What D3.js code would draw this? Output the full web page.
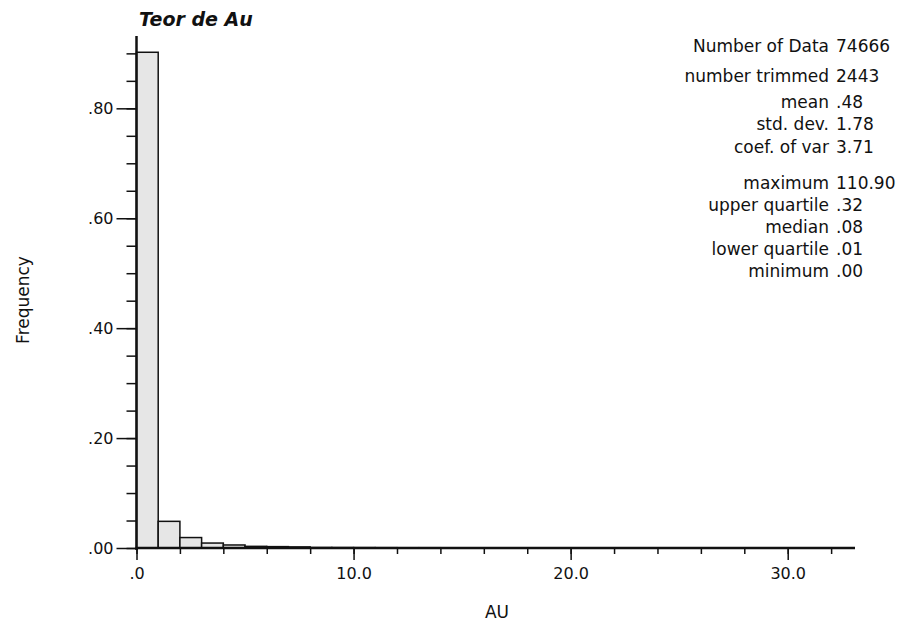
<!DOCTYPE html>
<html>
<head>
<meta charset="utf-8">
<script src="https://cdn.jsdelivr.net/npm/d3@7"></script>
<style>
  body { margin: 0; background: #fff; }
  svg text { font-family: "DejaVu Sans", sans-serif; fill: #111; }
</style>
</head>
<body>
<div id="chart"></div>
<script>
// histogram bins (width 1 AU, starting at 0)
const binStart = d3.range(0, 33);
const frequency = [0.902, 0.0485, 0.019, 0.009, 0.0055, 0.003, 0.0025, 0.002,
  0.0009, 0.0008, 0.0007, 0.0006, 0.0005, 0.0005, 0.0004, 0.0004, 0.0003, 0.0003,
  0.0003, 0.0002, 0.0002, 0.0002, 0.0002, 0.0002, 0.0001, 0.0001, 0.0001, 0.0001,
  0.0001, 0.0001, 0.0001, 0.0001, 0.0001];

const statLabels = ["Number of Data", "number trimmed", "mean", "std. dev.", "coef. of var",
  "maximum", "upper quartile", "median", "lower quartile", "minimum"];
const statValues = ["74666", "2443", ".48", "1.78", "3.71", "110.90", ".32", ".08", ".01", ".00"];
const statRowY = [46, 76, 102, 124, 147, 183, 205, 227, 249, 271];

const yMajor = [0, 0.2, 0.4, 0.6, 0.8];
const xMajor = [0, 10, 20, 30];

const width = 909, height = 628;
const svg = d3.select("#chart").append("svg")
    .attr("width", width)
    .attr("height", height);

const x = d3.scaleLinear().domain([0, 33.1]).range([136.5, 855]);
const y = d3.scaleLinear().domain([0, 0.9316]).range([548, 36]);

// bars
svg.selectAll(".bar")
    .data(binStart)
    .join("rect")
    .attr("class", "bar")
    .attr("x", d => x(d))
    .attr("y", (d, i) => y(frequency[i]))
    .attr("width", d => x(d + 1) - x(d))
    .attr("height", (d, i) => y(0) - y(frequency[i]))
    .attr("fill", "#e6e6e6")
    .attr("stroke", "#111")
    .attr("stroke-width", 1.5);

// y axis
const yAxisMinor = d3.axisLeft(y).tickValues(d3.range(0, 0.9001, 0.05)).tickSize(10).tickFormat("");
const yAxisMajor = d3.axisLeft(y).tickValues(yMajor).tickSize(20)
    .tickFormat(d => d3.format(".2f")(d).replace(/^0/, ""));

svg.append("g").attr("transform", `translate(${x(0)},0)`).call(yAxisMinor)
    .call(g => g.select(".domain").remove())
    .call(g => g.selectAll("line").attr("stroke", "#111").attr("stroke-width", 1.5));
svg.append("g").attr("transform", `translate(${x(0)},0)`).call(yAxisMajor)
    .call(g => g.select(".domain").remove())
    .call(g => g.selectAll("line").attr("stroke", "#111").attr("stroke-width", 1.5))
    .call(g => g.selectAll("text").attr("font-size", 16).attr("x", -23));

// x axis
const xAxisMinor = d3.axisBottom(x).tickValues(d3.range(0, 33, 2)).tickSize(6).tickFormat("");
const xAxisMajor = d3.axisBottom(x).tickValues(xMajor).tickSize(12)
    .tickFormat(d => d === 0 ? ".0" : d3.format(".1f")(d));

svg.append("g").attr("transform", `translate(0,${y(0)})`).call(xAxisMinor)
    .call(g => g.select(".domain").remove())
    .call(g => g.selectAll("line").attr("stroke", "#111").attr("stroke-width", 1.5));
svg.append("g").attr("transform", `translate(0,${y(0)})`).call(xAxisMajor)
    .call(g => g.select(".domain").remove())
    .call(g => g.selectAll("line").attr("stroke", "#111").attr("stroke-width", 1.5))
    .call(g => g.selectAll("text").attr("font-size", 16).attr("y", 20));

// axis lines
svg.append("line")
    .attr("x1", x(0)).attr("x2", x(0))
    .attr("y1", y.range()[1]).attr("y2", y(0) + 2)
    .attr("stroke", "#111").attr("stroke-width", 2.5);
svg.append("line")
    .attr("x1", x(0) - 1).attr("x2", x.range()[1])
    .attr("y1", y(0)).attr("y2", y(0))
    .attr("stroke", "#111").attr("stroke-width", 2.5);

// titles
svg.append("text")
    .attr("x", 139).attr("y", 26)
    .attr("font-size", 19)
    .attr("font-weight", "bold")
    .attr("font-style", "italic")
    .text("Teor de Au");

svg.append("text")
    .attr("transform", "translate(29,300) rotate(-90)")
    .attr("text-anchor", "middle")
    .attr("font-size", 17)
    .text("Frequency");

svg.append("text")
    .attr("x", 497).attr("y", 618)
    .attr("text-anchor", "middle")
    .attr("font-size", 17)
    .text("AU");

// stats block
const stats = svg.append("g");
stats.selectAll(".slabel")
    .data(statLabels)
    .join("text")
    .attr("class", "slabel")
    .attr("x", 829)
    .attr("y", (d, i) => statRowY[i])
    .attr("dy", "0.35em")
    .attr("text-anchor", "end")
    .attr("font-size", 17)
    .text(d => d);
stats.selectAll(".svalue")
    .data(statValues)
    .join("text")
    .attr("class", "svalue")
    .attr("x", 836)
    .attr("y", (d, i) => statRowY[i])
    .attr("dy", "0.35em")
    .attr("font-size", 17)
    .text(d => d);
</script>
</body>
</html>
